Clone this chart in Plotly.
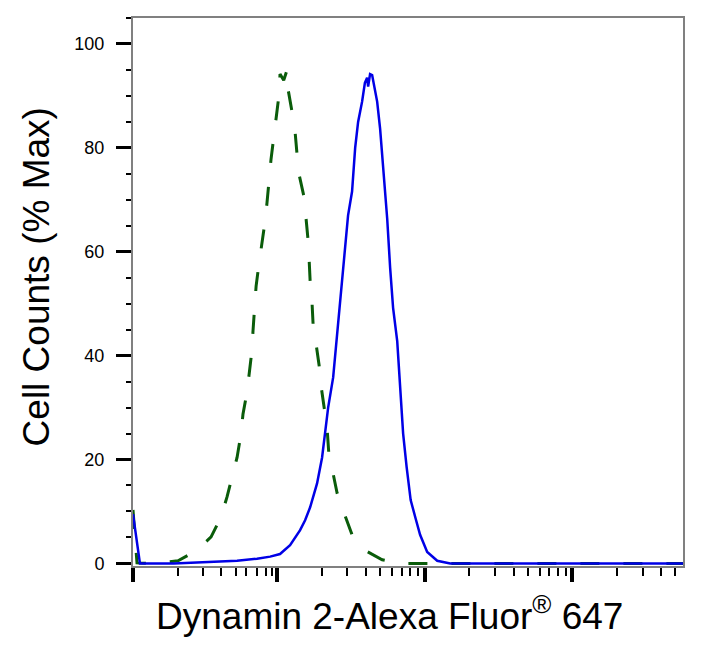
import plotly.graph_objects as go

# x values are in display units of the biexponential axis:
# 3 = 10^3, 4 = 10^4, 5 = 10^5, and 2.024 is where 0 sits
zero_pos = 2.024

# isotype control (green dashed)
green_x = [2.024, 2.051, 2.12, 2.193, 2.329, 2.451, 2.553, 2.620, 2.661, 2.695,
           2.729, 2.756, 2.769, 2.797, 2.810, 2.831, 2.837, 2.851, 2.858, 2.878,
           2.898, 2.919, 2.932, 2.946, 2.959, 2.980, 2.993, 3.014, 3.020, 3.045,
           3.068, 3.075, 3.102, 3.122, 3.136, 3.149, 3.183, 3.197, 3.210, 3.217,
           3.224, 3.237, 3.244, 3.264, 3.285, 3.300, 3.322, 3.339, 3.350, 3.380,
           3.407, 3.454, 3.508, 3.590, 3.712, 3.834, 4.1, 5.75]
green_y = [10.3, 0.1, 0.0, 0.1, 0.5, 2.4, 5.1, 8.9, 12.8, 16.8,
           20.4, 25.0, 28.7, 33.1, 36.7, 41.3, 44.8, 49.6, 53.4, 57.8,
           61.5, 65.9, 69.5, 74.1, 77.8, 82.6, 86.0, 90.4, 94.2, 93.0,
           95.0, 91.2, 86.8, 83.1, 78.5, 74.9, 70.5, 66.6, 62.2, 58.6,
           54.4, 50.1, 46.1, 42.3, 38.1, 33.8, 29.8, 26.0, 21.4, 17.5,
           13.5, 9.7, 5.5, 2.6, 0.7, 0.0, 0.0, 0.0]

# Dynamin 2 stained (blue solid)
blue_x = [2.024, 2.051, 2.071, 2.3, 2.566, 2.729, 2.864, 2.953, 3.020, 3.088,
          3.156, 3.190, 3.224, 3.271, 3.305, 3.325, 3.346, 3.380, 3.407, 3.427,
          3.441, 3.461, 3.481, 3.508, 3.529, 3.549, 3.576, 3.595, 3.610, 3.617,
          3.630, 3.644, 3.678, 3.698, 3.719, 3.746, 3.766, 3.786, 3.814, 3.834,
          3.854, 3.878, 3.905, 3.940, 3.969, 4.017, 4.085, 4.173, 5.75]
blue_y = [9.5, 4.5, 0.0, 0.0, 0.3, 0.5, 0.9, 1.3, 1.8, 3.5,
          6.4, 8.3, 10.8, 15.4, 20.4, 25.0, 30.0, 35.8, 44.2, 50.5,
          53.8, 60.0, 67.0, 71.6, 80.0, 85.0, 88.9, 92.5, 93.5, 91.8,
          94.2, 94.0, 88.9, 83.7, 76.0, 66.4, 56.9, 49.2, 42.8, 34.6,
          25.0, 18.5, 12.2, 8.5, 5.5, 2.2, 0.5, 0.0, 0.0]

# axis ticks
x_major = [zero_pos, 3, 4, 5]
x_minor = [2.329, 2.498, 2.620, 2.722, 2.790, 2.864, 2.925, 2.966,
           3.301, 3.477, 3.602, 3.699, 3.778, 3.845, 3.903, 3.954,
           4.301, 4.477, 4.602, 4.699, 4.778, 4.845, 4.903, 4.954,
           5.301, 5.477, 5.602, 5.699]
y_major = [0, 20, 40, 60, 80, 100]

font = "Liberation Sans, Arial, sans-serif"

fig = go.Figure()
fig.add_trace(go.Scatter(x=green_x, y=green_y, mode="lines",
                         line=dict(color="#0a5c0a", width=3, dash="19px,24px")))
fig.add_trace(go.Scatter(x=blue_x, y=blue_y, mode="lines",
                         line=dict(color="#0000e6", width=2.5)))

# page has an 8px body margin, so margins are pulled in by 8
fig.update_layout(
    width=713, height=650,
    margin=dict(l=125, r=38, t=8, b=92),
    paper_bgcolor="white", plot_bgcolor="white",
    showlegend=False,
    font=dict(family=font, color="black"),
    annotations=[
        dict(text="Cell Counts (% Max)", textangle=-90, showarrow=False,
             xref="paper", yref="paper", x=-0.176, y=0.527,
             xanchor="center", yanchor="middle", font=dict(size=37)),
        dict(text="Dynamin 2-Alexa Fluor<sup>®</sup> 647", showarrow=False,
             xref="paper", yref="paper", x=0.4664, y=-0.086,
             xanchor="center", yanchor="middle", font=dict(size=37)),
    ],
)

fig.update_xaxes(
    range=[zero_pos, 5.75], showgrid=False, zeroline=False,
    showline=True, linecolor="#808080", linewidth=2, mirror=True,
    ticks="outside", tickmode="array", tickvals=x_major,
    ticklen=14, tickwidth=4, tickcolor="black", showticklabels=False,
    minor=dict(tickmode="array", tickvals=x_minor, ticks="outside",
               ticklen=8, tickwidth=2, tickcolor="black"),
)
fig.update_yaxes(
    range=[-0.5, 105], showgrid=False, zeroline=False,
    showline=True, linecolor="#808080", linewidth=2, mirror=True,
    ticks="outside", tickmode="array", tickvals=y_major,
    ticklen=15, tickwidth=3, tickcolor="black",
    tickfont=dict(size=18, family=font, color="black"), ticklabelstandoff=8,
    minor=dict(dtick=5, tick0=0, ticks="outside", ticklen=5, tickwidth=2,
               tickcolor="black"),
)

fig.write_html("out.html")
